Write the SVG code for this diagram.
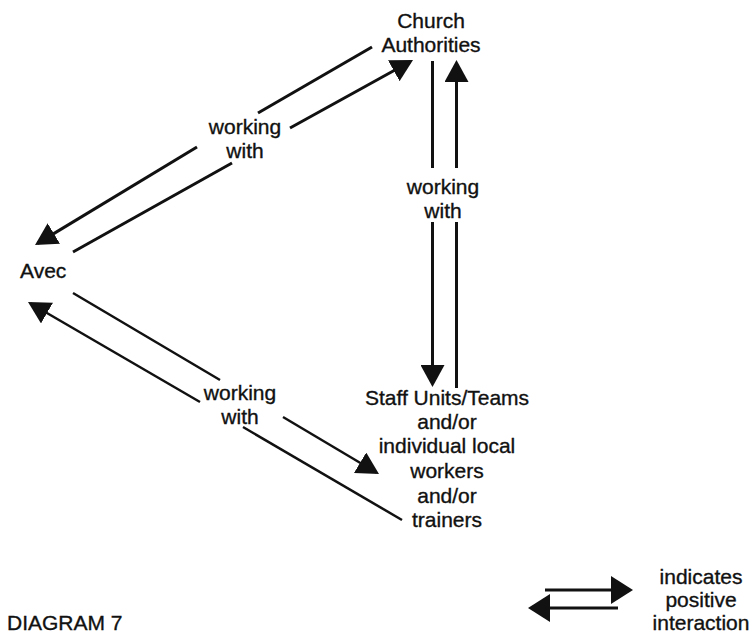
<svg xmlns="http://www.w3.org/2000/svg" width="752" height="635" viewBox="0 0 752 635">
<style>
text{font-family:"Liberation Sans",Arial,sans-serif;font-size:21px;fill:#111;stroke:#111;stroke-width:0.35;text-anchor:middle}
.l{fill:none;stroke:#111;stroke-width:3;stroke-linecap:butt}
.t{stroke-width:2.5}
.h{marker-end:url(#head)}
.hl{marker-end:url(#headL)}
</style>
<defs>
<marker id="head" markerUnits="userSpaceOnUse" viewBox="0 0 22 24" refX="19" refY="12" markerWidth="22" markerHeight="24" orient="auto">
<path d="M0,0 L22,12 L0,24 Z" fill="#111"/>
</marker>
<marker id="headL" markerUnits="userSpaceOnUse" viewBox="0 0 22 28" refX="19" refY="14" markerWidth="22" markerHeight="28" orient="auto">
<path d="M0,0 L22,14 L0,28 Z" fill="#111"/>
</marker>
</defs>
<rect width="752" height="635" fill="#fff"/>
<g id="connectors">
<!-- Church -> Avec -->
<line class="l" x1="372" y1="47" x2="258" y2="113"/>
<line class="l h" x1="197" y1="147" x2="37.6" y2="243.4"/>
<!-- Avec -> Church -->
<line class="l" x1="73" y1="252" x2="232" y2="163"/>
<line class="l h" x1="290" y1="128" x2="410.4" y2="61.5"/>
<!-- Church -> Staff -->
<line class="l" x1="432.5" y1="61" x2="432.5" y2="168"/>
<line class="l h" x1="432.5" y1="222" x2="432.5" y2="384"/>
<!-- Staff -> Church -->
<line class="l" x1="456.5" y1="388" x2="456.5" y2="222"/>
<line class="l h" x1="456.5" y1="168" x2="456.5" y2="63"/>
<!-- Avec -> Staff -->
<line class="l t" x1="73" y1="293" x2="220" y2="380"/>
<line class="l t h" x1="283" y1="417" x2="376.4" y2="472.5"/>
<!-- Staff -> Avec -->
<line class="l t" x1="402" y1="520" x2="243" y2="427"/>
<line class="l t h" x1="200" y1="402" x2="30.6" y2="303.5"/>
<!-- legend -->
<line class="l hl" x1="545" y1="590" x2="630" y2="590"/>
<line class="l hl" x1="618" y1="608" x2="531" y2="608"/>
</g>
<g id="church">
<text x="431" y="28">Church</text>
<text x="431" y="52">Authorities</text>
</g>
<g id="avec">
<text x="20" y="278" style="text-anchor:start">Avec</text>
</g>
<g id="staff">
<text x="447" y="405">Staff Units/Teams</text>
<text x="447" y="429">and/or</text>
<text x="447" y="453">individual local</text>
<text x="447" y="478">workers</text>
<text x="447" y="503">and/or</text>
<text x="447" y="527">trainers</text>
</g>
<g id="label-top">
<text x="245" y="134">working</text>
<text x="245" y="158">with</text>
</g>
<g id="label-right">
<text x="443" y="194">working</text>
<text x="443" y="218">with</text>
</g>
<g id="label-bottom">
<text x="240" y="400">working</text>
<text x="240" y="424">with</text>
</g>
<g id="legend">
<text x="701" y="584">indicates</text>
<text x="701" y="607">positive</text>
<text x="701" y="630">interaction</text>
</g>
<g id="title">
<text x="7" y="630" style="text-anchor:start">DIAGRAM 7</text>
</g>
</svg>
